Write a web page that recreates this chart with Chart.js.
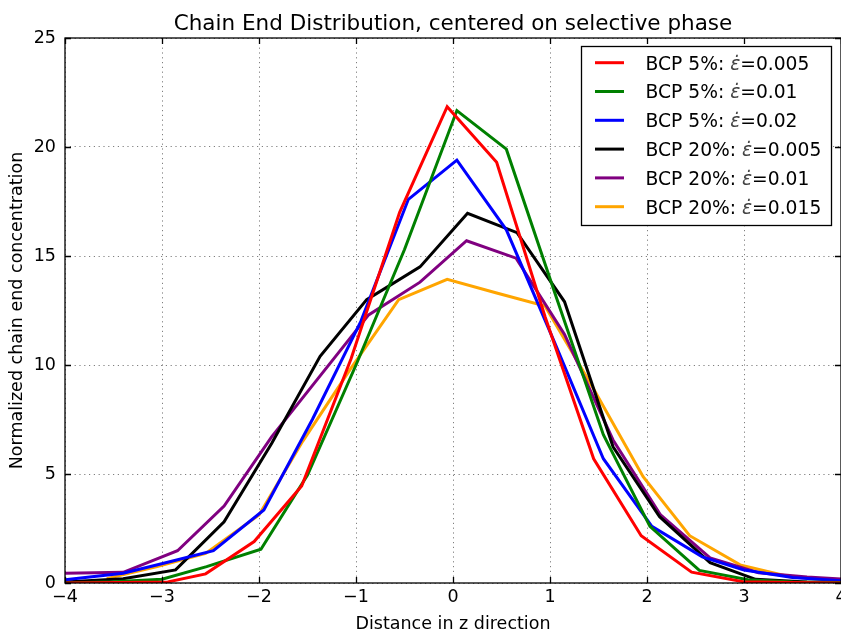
<!DOCTYPE html>
<html>
<head>
<meta charset="utf-8">
<script src="https://cdn.jsdelivr.net/npm/chart.js@4"></script>
<style>
html, body { margin: 0; padding: 0; background: #fff; overflow: hidden; }
</style>
</head>
<body>
<canvas id="myChart" width="841" height="634"></canvas>
<script>
"use strict";
// Data (x = distance in z, y = normalized concentration)
const labels = [
    "BCP 5%: ε̇=0.005",
    "BCP 5%: ε̇=0.01",
    "BCP 5%: ε̇=0.02",
    "BCP 20%: ε̇=0.005",
    "BCP 20%: ε̇=0.01",
    "BCP 20%: ε̇=0.015",
];
const colors = ["#ff0000", "#008000", "#0000ff", "#000000", "#800080", "#ffa500"];

const xRed5 = [-4.0, -3.45, -2.94, -2.55, -2.05, -1.56, -1.05, -0.55, -0.06, 0.45, 0.95, 1.45, 1.94, 2.46, 2.99, 3.5, 4.0];
const yRed5 = [0.0, 0.02, 0.05, 0.42, 1.9, 4.45, 10.3, 17.0, 21.85, 19.3, 12.2, 5.7, 2.17, 0.5, 0.06, 0.02, 0.0];

const xGreen5 = [-4.0, -3.5, -3.0, -2.54, -1.98, -1.5, -1.0, -0.5, 0.04, 0.55, 1.05, 1.55, 2.03, 2.54, 3.04, 3.5, 4.0];
const yGreen5 = [0.0, 0.06, 0.17, 0.75, 1.55, 4.95, 10.0, 15.3, 21.67, 19.9, 13.3, 6.8, 2.6, 0.58, 0.15, 0.05, 0.02];

const xBlue5 = [-4.0, -3.4, -2.9, -2.47, -1.95, -1.45, -0.95, -0.46, 0.04, 0.55, 1.05, 1.55, 2.05, 2.57, 3.0, 3.5, 4.0];
const yBlue5 = [0.15, 0.45, 1.0, 1.48, 3.35, 7.5, 12.0, 17.6, 19.4, 16.2, 11.0, 5.7, 2.6, 1.2, 0.6, 0.25, 0.1];

const xBlack20 = [-4.0, -3.4, -2.86, -2.36, -1.87, -1.37, -0.89, -0.34, 0.15, 0.66, 1.15, 1.65, 2.13, 2.65, 3.12, 3.65, 4.0];
const yBlack20 = [0.05, 0.2, 0.6, 2.81, 6.4, 10.4, 13.0, 14.5, 16.96, 16.07, 12.9, 6.25, 3.04, 0.93, 0.17, 0.05, 0.03];

const xPurple20 = [-4.0, -3.4, -2.84, -2.36, -1.87, -1.37, -0.87, -0.34, 0.14, 0.65, 1.15, 1.65, 2.14, 2.65, 3.15, 3.65, 4.0];
const yPurple20 = [0.45, 0.49, 1.48, 3.53, 6.7, 9.5, 12.3, 13.8, 15.7, 14.9, 11.4, 6.56, 3.12, 1.15, 0.47, 0.27, 0.18];

const xOrange20 = [-3.57, -3.05, -2.55, -2.0, -1.55, -1.06, -0.56, -0.06, 0.45, 0.95, 1.45, 1.96, 2.44, 2.96, 3.47, 4.0];
const yOrange20 = [0.2, 0.75, 1.36, 3.12, 6.5, 9.8, 13.0, 13.93, 13.3, 12.7, 8.9, 4.88, 2.17, 0.83, 0.29, 0.1];

const xSeries = [xRed5, xGreen5, xBlue5, xBlack20, xPurple20, xOrange20];
const ySeries = [yRed5, yGreen5, yBlue5, yBlack20, yPurple20, yOrange20];

const xTicks = [-4, -3, -2, -1, 0, 1, 2, 3, 4];
const yTicks = [0, 5, 10, 15, 20, 25];

const titleText = "Chain End Distribution, centered on selective phase";
const xTitle = "Distance in z direction";
const yTitle = "Normalized chain end concentration";

const FONT = "'DejaVu Sans', sans-serif";

function minus(v) {
    return v < 0 ? "\u2212" + Math.abs(v) : String(v);
}

const data = {
    datasets: labels.map((lab, i) => ({
        label: lab,
        data: xSeries[i].map((x, j) => ({ x: x, y: ySeries[i][j] })),
        borderColor: colors[i],
        backgroundColor: colors[i],
        borderWidth: 3,
        pointRadius: 0,
        tension: 0,
        fill: false,
    })),
};

// frame, inward ticks, title and boxed legend like the matplotlib figure
const decorations = {
    id: "decorations",
    afterDatasetsDraw(chart) {
        const { ctx, chartArea: a, scales } = chart;
        ctx.save();
        ctx.strokeStyle = "#000";
        ctx.lineWidth = 1.3;
        ctx.setLineDash([]);
        ctx.strokeRect(a.left, a.top, a.right - a.left, a.bottom - a.top);
        ctx.beginPath();
        xTicks.forEach(v => {
            const px = Math.round(scales.x.getPixelForValue(v)) + 0.5;
            ctx.moveTo(px, a.bottom); ctx.lineTo(px, a.bottom - 6);
            ctx.moveTo(px, a.top); ctx.lineTo(px, a.top + 6);
        });
        yTicks.forEach(v => {
            const py = Math.round(scales.y.getPixelForValue(v)) + 0.5;
            ctx.moveTo(a.left, py); ctx.lineTo(a.left + 6, py);
            ctx.moveTo(a.right, py); ctx.lineTo(a.right - 6, py);
        });
        ctx.stroke();

        // title
        ctx.fillStyle = "#000";
        ctx.font = "21.5px " + FONT;
        ctx.textAlign = "center";
        ctx.textBaseline = "alphabetic";
        ctx.fillText(titleText, (a.left + a.right) / 2, 30);

        // legend
        const bx = 581.5, by = 46.5, bw = 250, bh = 179;
        ctx.fillStyle = "#fff";
        ctx.fillRect(bx, by, bw, bh);
        ctx.strokeStyle = "#000";
        ctx.lineWidth = 1.3;
        ctx.strokeRect(bx, by, bw, bh);
        chart.data.datasets.forEach((ds, i) => {
            const ly = 62.7 + i * 28.8;
            ctx.strokeStyle = ds.borderColor;
            ctx.lineWidth = 3;
            ctx.beginPath();
            ctx.moveTo(595, ly);
            ctx.lineTo(624, ly);
            ctx.stroke();
            const parts = ds.label.split("ε̇");
            let tx = 645.5;
            const base = ly + 6.8;
            ctx.textAlign = "left";
            ctx.fillStyle = "#000";
            ctx.font = "18.7px " + FONT;
            ctx.fillText(parts[0], tx, base);
            tx += ctx.measureText(parts[0]).width;
            ctx.font = "italic 18.7px " + FONT;
            ctx.fillStyle = "#444";
            ctx.fillText("ε̇", tx, base);
            tx += ctx.measureText("ε̇").width;
            ctx.font = "18.7px " + FONT;
            ctx.fillStyle = "#000";
            ctx.fillText(parts[1], tx, base);
        });
        ctx.restore();
    },
};

const config = {
    type: "line",
    data: data,
    options: {
        responsive: false,
        animation: false,
        layout: { padding: { top: 38, right: 0, bottom: 0, left: 0 } },
        scales: {
            x: {
                type: "linear",
                position: "bottom",
                min: -4,
                max: 4,
                afterBuildTicks: (s) => { s.ticks = xTicks.map(v => ({ value: v })); },
                afterFit: (s) => { s.paddingLeft = 0; s.paddingRight = 0; s.height = 51; },
                ticks: {
                    callback: (v) => minus(v),
                    color: "#000",
                    padding: 4,
                    maxRotation: 0,
                    font: { family: FONT, size: 17.5 },
                },
                grid: { color: "rgba(0,0,0,0.5)", lineWidth: 1, drawTicks: false },
                border: { display: false, dash: [1.2, 3.6] },
                title: {
                    display: true,
                    text: xTitle,
                    color: "#000",
                    padding: { top: 0, bottom: 0 },
                    font: { family: FONT, size: 17.5, lineHeight: 1.1 },
                },
            },
            y: {
                type: "linear",
                min: 0,
                max: 25,
                afterBuildTicks: (s) => { s.ticks = yTicks.map(v => ({ value: v })); },
                afterFit: (s) => { s.width = 65; },
                ticks: {
                    color: "#000",
                    padding: 9,
                    font: { family: FONT, size: 17.5 },
                },
                grid: { color: "rgba(0,0,0,0.5)", lineWidth: 1, drawTicks: false },
                border: { display: false, dash: [1.2, 3.6] },
                title: {
                    display: true,
                    text: yTitle,
                    color: "#000",
                    padding: { top: 8, bottom: 0 },
                    font: { family: FONT, size: 17.5, lineHeight: 1.1 },
                },
            },
        },
        plugins: {
            legend: { display: false },
            title: { display: false },
            tooltip: { enabled: false },
        },
    },
    plugins: [decorations],
};

const myChart = new Chart(document.getElementById("myChart"), config);
</script>
</body>
</html>
